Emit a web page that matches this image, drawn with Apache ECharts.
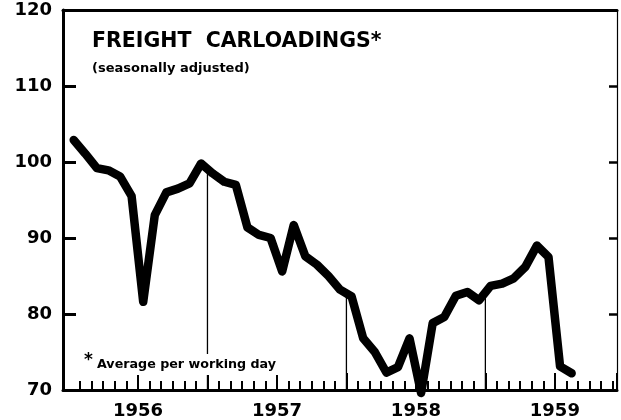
<!DOCTYPE html>
<html>
<head>
<meta charset="utf-8">
<script src="https://cdn.jsdelivr.net/npm/echarts@6/dist/echarts.min.js"></script>
<style>
  html, body { margin: 0; padding: 0; background: #fff; }
  #chart { width: 621px; height: 420px; }
</style>
</head>
<body>
<div id="chart"></div>
<script>
// ---- data (monthly, Jan 1956 - Aug 1959) ----
const startYear = 1956;
const months = [];
for (let i = 0; i < 44; i++) {
  const y = startYear + Math.floor(i / 12);
  const m = (i % 12) + 1;
  months.push(y + '-' + (m < 10 ? '0' + m : m));
}
const carloadings = [
  102.9, 101.1, 99.2, 98.9, 98.1, 95.5, 81.6, 93.0, 96.0, 96.5, 97.2, 99.8,
  98.5, 97.4, 97.0, 91.4, 90.4, 90.0, 85.6, 91.7, 87.6, 86.5, 85.0, 83.2,
  82.3, 76.8, 75.0, 72.3, 73.0, 76.8, 69.6, 78.8, 79.6, 82.4, 82.9, 81.8,
  83.7, 84.0, 84.7, 86.2, 89.0, 87.5, 73.1, 72.2
];
const yearLabels = ['1956', '1957', '1958', '1959'];
const yearBoundaries = ['1957-01', '1958-01', '1959-01'];
const yTicks = [70, 80, 90, 100, 110, 120];

// ---- build ----
const FONT = 'DejaVu Sans';
const monthIndex = s => {
  const [y, m] = s.split('-').map(Number);
  return (y - startYear) * 12 + (m - 1);
};
const MID = 0.45; // point placed within its month
const lineData = carloadings.map((v, i) => [monthIndex(months[i]) + MID, v]);

function valueAt(x) {
  for (let i = 0; i < lineData.length - 1; i++) {
    const a = lineData[i], b = lineData[i + 1];
    if (x >= a[0] && x <= b[0]) {
      return a[1] + (b[1] - a[1]) * (x - a[0]) / (b[0] - a[0]);
    }
  }
  return lineData[lineData.length - 1][1];
}

const W = 621;
const yMin = yTicks[0], yMax = yTicks[yTicks.length - 1];
const gridTop = 10, gridBottom = 30, frameLeft = 63, frameRight = 4;
const m0 = 68.5, perMonth = 11.58;
const xEnd = ((W - frameRight) - m0) / perMonth; // month value at right frame

const boundarySeries = yearBoundaries.map(b => {
  const x = monthIndex(b);
  return {
    type: 'line', xAxisIndex: 2, yAxisIndex: 2, z: 1,
    symbol: 'none', silent: true, clip: false,
    lineStyle: { color: '#000', width: 1.3 },
    data: [[x, yMin], [x, valueAt(x)]]
  };
});

const hiddenY = gi => ({ gridIndex: gi, type: 'value', min: yMin, max: yMax, show: false,
  axisLine: { onZero: false } });

const chart = echarts.init(document.getElementById('chart'), null, { renderer: 'canvas' });
chart.setOption({
  animation: false,
  backgroundColor: '#fff',
  grid: [
    { left: frameLeft, right: frameRight, top: gridTop, bottom: gridBottom },
    { left: m0, right: frameRight, top: gridTop, bottom: gridBottom },
    { left: m0 + perMonth * 1, right: frameRight, top: gridTop, bottom: gridBottom },
    { left: m0 + perMonth * 6, right: frameRight, top: gridTop, bottom: gridBottom }
  ],
  xAxis: [
    { gridIndex: 0, type: 'value', position: 'bottom', min: 0, max: 1,
      axisLine: { show: true, onZero: false, lineStyle: { color: '#000', width: 3 } },
      axisTick: { show: false }, axisLabel: { show: false }, splitLine: { show: false } },
    { gridIndex: 0, type: 'value', position: 'top', min: 0, max: 1,
      axisLine: { show: true, onZero: false, lineStyle: { color: '#000', width: 3 } },
      axisTick: { show: false }, axisLabel: { show: false }, splitLine: { show: false } },
    { gridIndex: 1, type: 'value', min: 0, max: xEnd, show: false, axisLine: { onZero: false } },
    { gridIndex: 2, type: 'value', min: 1, max: xEnd, interval: 1,
      axisLine: { show: false, onZero: false },
      axisTick: { show: true, inside: true, length: 9, lineStyle: { color: '#000', width: 2 } },
      axisLabel: { show: false }, splitLine: { show: false } },
    { gridIndex: 3, type: 'value', min: 6, max: xEnd, interval: 6,
      axisLine: { show: false, onZero: false },
      axisTick: { show: true, inside: true, length: 15, lineStyle: { color: '#000', width: 2 } },
      axisLabel: {
        show: true, margin: 14, color: '#000', fontFamily: FONT, fontWeight: 'bold', fontSize: 18,
        formatter: v => (v % 12 === 6 ? (yearLabels[(v - 6) / 12] || '') : '')
      },
      splitLine: { show: false } }
  ],
  yAxis: [
    { gridIndex: 0, type: 'value', position: 'left', min: yMin, max: yMax, interval: 10,
      axisLine: { show: true, onZero: false, lineStyle: { color: '#000', width: 3 } },
      axisTick: { show: true, inside: true, length: 13, lineStyle: { color: '#000', width: 3 } },
      axisLabel: { show: true, margin: 11, color: '#000', fontFamily: FONT, fontWeight: 'bold', fontSize: 18 },
      splitLine: { show: false } },
    { gridIndex: 0, type: 'value', position: 'right', min: yMin, max: yMax, interval: 10,
      axisLine: { show: true, onZero: false, lineStyle: { color: '#000', width: 1.2 } },
      axisTick: { show: true, inside: true, length: 8, lineStyle: { color: '#000', width: 2.5 } },
      axisLabel: { show: false }, splitLine: { show: false } },
    hiddenY(1), hiddenY(2), hiddenY(3)
  ],
  series: [
    ...boundarySeries,
    { type: 'line', xAxisIndex: 2, yAxisIndex: 2, z: 5,
      symbol: 'none', silent: true, clip: false,
      lineStyle: { color: '#000', width: 8.5, cap: 'round', join: 'round' },
      data: lineData }
  ],
  graphic: [
    { type: 'text', left: 92, top: 31, z: 100,
      style: { text: 'FREIGHT  CARLOADINGS*', fill: '#000', font: 'bold 20.5px "DejaVu Sans"' } },
    { type: 'text', left: 92, top: 62, z: 100,
      style: { text: '(seasonally adjusted)', fill: '#000', font: 'bold 13px "DejaVu Sans"' } },
    { type: 'rect', z: 90, shape: { x: 82, y: 354, width: 200, height: 21 },
      style: { fill: '#fff' } },
    { type: 'text', left: 84, top: 352, z: 100,
      style: { text: '*', fill: '#000', font: 'bold 17px "DejaVu Sans"' } },
    { type: 'text', left: 97, top: 358, z: 100,
      style: { text: 'Average per working day', fill: '#000', font: 'bold 12.7px "DejaVu Sans"' } }
  ]
});
</script>
</body>
</html>
